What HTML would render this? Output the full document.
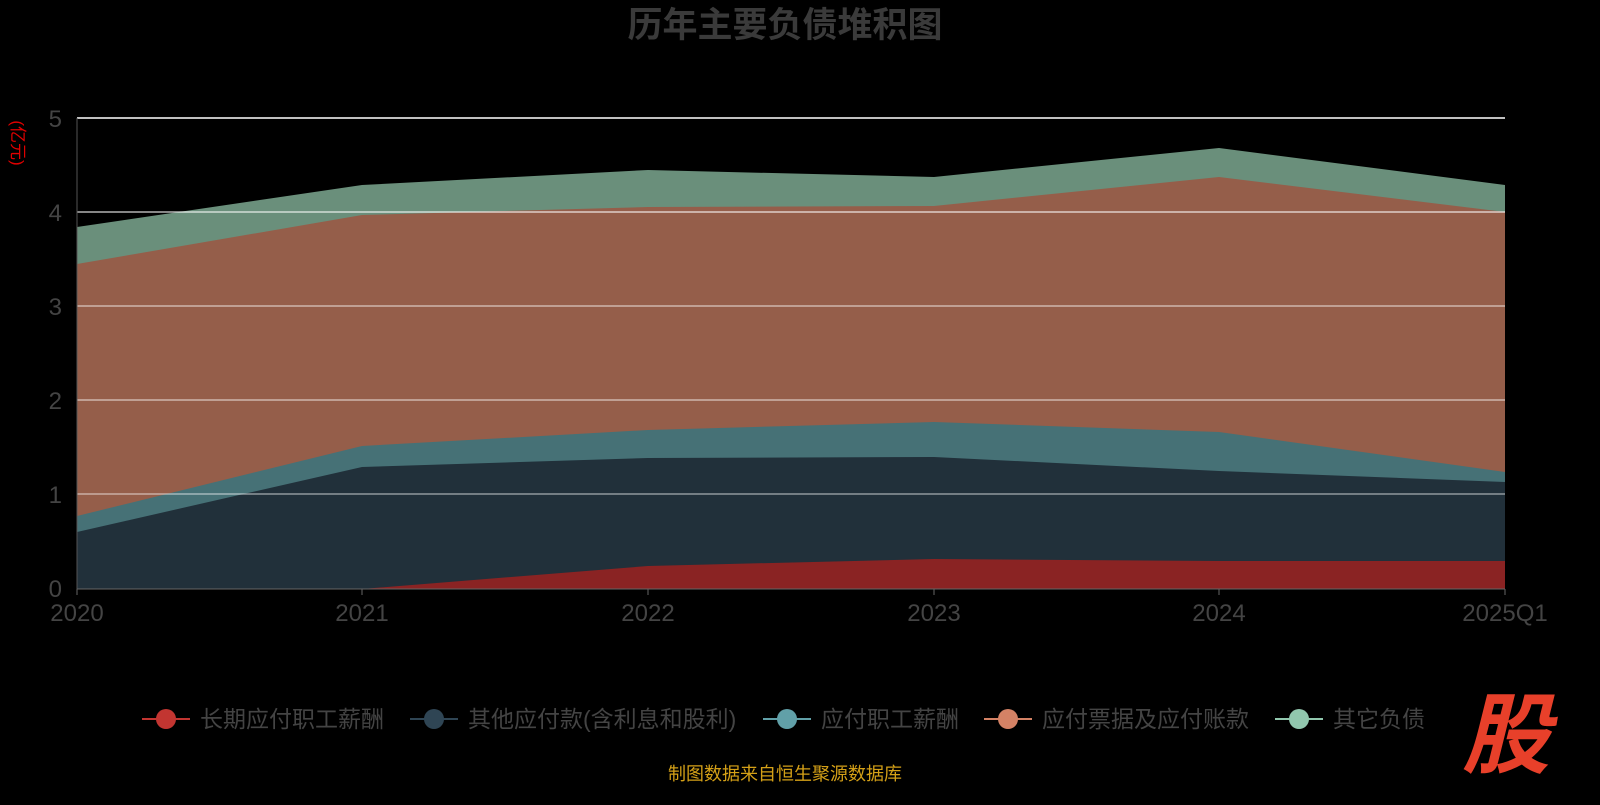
<!DOCTYPE html>
<html><head><meta charset="utf-8"><style>
body{margin:0;background:#000;width:1600px;height:800px;overflow:hidden;font-family:"Liberation Sans","Noto Sans CJK SC",sans-serif}
</style></head><body>
<svg width="1600" height="800" xmlns="http://www.w3.org/2000/svg" style="font-family:'Liberation Sans','Noto Sans CJK SC',sans-serif">
<rect width="1600" height="800" fill="#000"/>
<text x="785" y="37" text-anchor="middle" font-size="35" font-weight="bold" fill="#3a3a3a">历年主要负债堆积图</text>
<text transform="translate(12,143) rotate(90)" text-anchor="middle" font-size="17" fill="#e00000">(亿元)</text>
<polygon points="77,227 362,185 648,170 934,177 1219,148 1505,185 1505,589 77,589" fill="#6a8f7b"/>
<polygon points="77,264 362,215 648,207 934,206 1219,177 1505,212 1505,589 77,589" fill="#955e4a"/>
<polygon points="77,516 362,446 648,430 934,422 1219,432 1505,472 1505,589 77,589" fill="#467176"/>
<polygon points="77,532 362,467 648,458 934,457 1219,471 1505,482 1505,589 77,589" fill="#21303a"/>
<polygon points="77,589 362,589 648,566 934,559 1219,561 1505,561 1505,589 77,589" fill="#8a2323"/>
<g stroke="#fff" stroke-width="1.5">
<line x1="77" y1="118" x2="1505" y2="118"/>
<line x1="77" y1="212" x2="1505" y2="212" stroke-opacity="0.7"/>
<line x1="77" y1="306" x2="1505" y2="306" stroke-opacity="0.55"/>
<line x1="77" y1="400" x2="1505" y2="400" stroke-opacity="0.55"/>
<line x1="77" y1="494" x2="1505" y2="494" stroke-opacity="0.5"/>
</g>
<line x1="77" y1="118" x2="77" y2="589" stroke="#555"/>
<line x1="77" y1="589" x2="1505" y2="589" stroke="#666"/>
<g stroke="#666"><line x1="77" y1="589" x2="77" y2="595"/><line x1="362" y1="589" x2="362" y2="595"/><line x1="648" y1="589" x2="648" y2="595"/><line x1="934" y1="589" x2="934" y2="595"/><line x1="1219" y1="589" x2="1219" y2="595"/><line x1="1505" y1="589" x2="1505" y2="595"/></g>
<g font-size="24" fill="#444" text-anchor="end">
<text x="62" y="127">5</text><text x="62" y="221">4</text><text x="62" y="315">3</text><text x="62" y="409">2</text><text x="62" y="503">1</text><text x="62" y="597">0</text>
</g>
<g font-size="24" fill="#444" text-anchor="middle">
<text x="77" y="621">2020</text><text x="362" y="621">2021</text><text x="648" y="621">2022</text><text x="934" y="621">2023</text><text x="1219" y="621">2024</text><text x="1505" y="621">2025Q1</text>
</g>
<g font-size="23" fill="#444">
<line x1="142" y1="719" x2="190" y2="719" stroke="#c23531" stroke-width="2"/><circle cx="166" cy="719" r="10" fill="#c23531"/><text x="200" y="727">长期应付职工薪酬</text>
<line x1="410" y1="719" x2="458" y2="719" stroke="#2f4554" stroke-width="2"/><circle cx="434" cy="719" r="10" fill="#2f4554"/><text x="468" y="727">其他应付款(含利息和股利)</text>
<line x1="763" y1="719" x2="811" y2="719" stroke="#61a0a8" stroke-width="2"/><circle cx="787" cy="719" r="10" fill="#61a0a8"/><text x="821" y="727">应付职工薪酬</text>
<line x1="984" y1="719" x2="1032" y2="719" stroke="#d48265" stroke-width="2"/><circle cx="1008" cy="719" r="10" fill="#d48265"/><text x="1042" y="727">应付票据及应付账款</text>
<line x1="1275" y1="719" x2="1323" y2="719" stroke="#91c7ae" stroke-width="2"/><circle cx="1299" cy="719" r="10" fill="#91c7ae"/><text x="1333" y="727">其它负债</text>
</g>
<text x="1506" y="766" text-anchor="middle" font-size="88" font-weight="bold" font-style="italic" fill="#e8402a">股</text>
<text x="785" y="780" text-anchor="middle" font-size="18" fill="#d4a017">制图数据来自恒生聚源数据库</text>
</svg>
</body></html>
